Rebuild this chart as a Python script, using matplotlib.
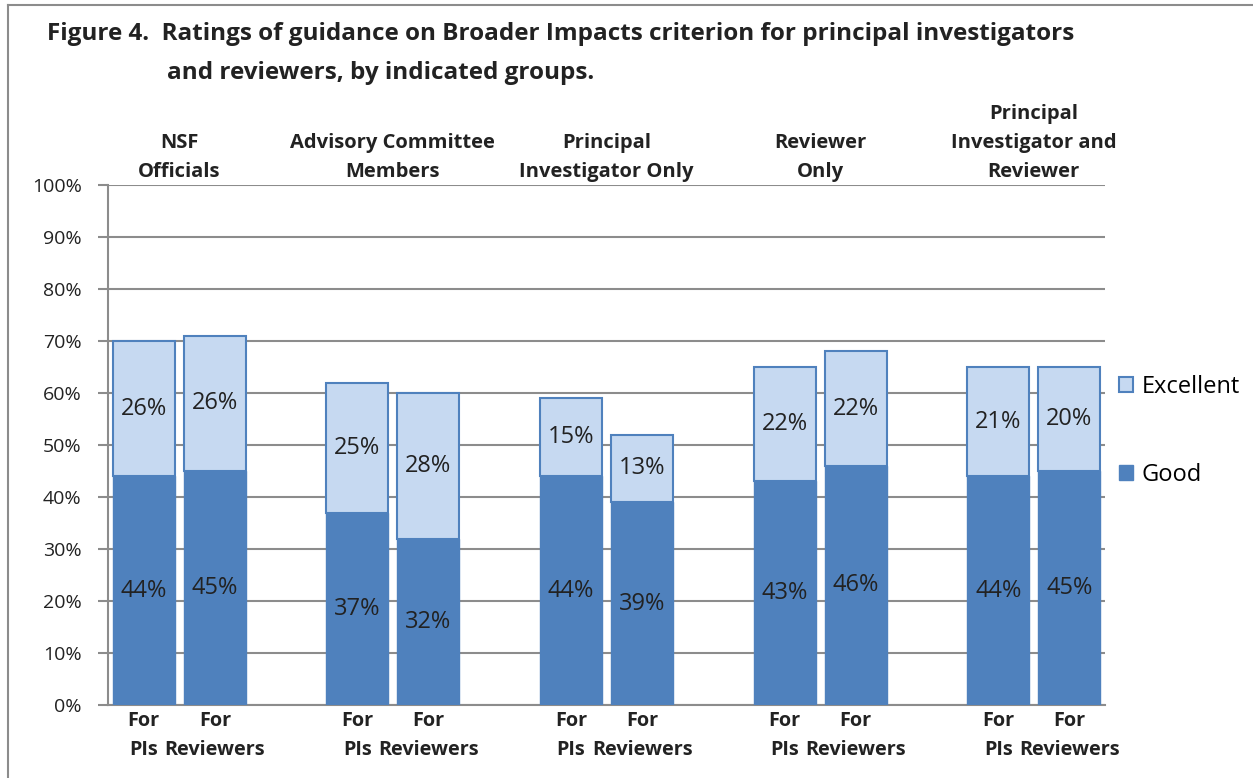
import matplotlib.pyplot as plt
from matplotlib.lines import Line2D
from matplotlib.patches import Patch

GROUPS = ["NSF\nOfficials", "Advisory Committee\nMembers", "Principal\nInvestigator Only",
          "Reviewer\nOnly", "Principal\nInvestigator and\nReviewer"]
BAR_LABELS = ["For\nPIs", "For\nReviewers"] * 5
GOOD = [44, 45, 37, 32, 44, 39, 43, 46, 44, 45]
EXCELLENT = [26, 26, 25, 28, 15, 13, 22, 22, 21, 20]
YTICKS = [0, 10, 20, 30, 40, 50, 60, 70, 80, 90, 100]

DARK = "#4F81BD"
LIGHT = "#C6D9F1"
GRID = "#8C8C8C"

plt.rcParams['font.family'] = ['Open Sans', 'DejaVu Sans']

fig = plt.figure(figsize=(12.53, 7.78), dpi=100)
ax = fig.add_axes([0.0862, 0.0938, 0.7957, 0.6684])

# two bars per group, one empty slot between groups
xpos = []
for g in range(len(GROUPS)):
    xpos += [3 * g, 3 * g + 1]

ax.bar(xpos, GOOD, width=0.87, color=DARK, edgecolor=DARK, linewidth=1, zorder=3, label="Good")
ax.bar(xpos, EXCELLENT, bottom=GOOD, width=0.87, color=LIGHT, edgecolor=DARK,
       linewidth=1.5, zorder=3, label="Excellent")

for x, g, e in zip(xpos, GOOD, EXCELLENT):
    ax.text(x, g / 2, f"{g}%", ha="center", va="center", fontsize=17, color="#222222", zorder=4)
    ax.text(x, g + e / 2, f"{e}%", ha="center", va="center", fontsize=17, color="#222222", zorder=4)

ax.set_xlim(-0.5, 13.5)
ax.set_ylim(0, 100)
ax.set_yticks(YTICKS)
ax.set_yticklabels([f"{t}%" for t in YTICKS], fontsize=14, color="#222222")
ax.yaxis.grid(True, color=GRID, linewidth=1.5, zorder=0)
ax.tick_params(axis="y", length=7, width=1.5, color=GRID, pad=12)
ax.set_xticks(xpos)
ax.set_xticklabels(BAR_LABELS, fontsize=14.3, fontweight="bold", color="#222222", linespacing=1.65)
ax.tick_params(axis="x", length=0, pad=4)

for side in ["top", "right"]:
    ax.spines[side].set_visible(False)
ax.spines["left"].set_color(GRID)
ax.spines["left"].set_linewidth(1.5)
ax.spines["bottom"].set_color(GRID)
ax.spines["bottom"].set_linewidth(1.5)

# group headers above the plot
for g, name in enumerate(GROUPS):
    ax.text(3 * g + 0.5, 100.5, name, ha="center", va="bottom", fontsize=14.5,
            fontweight="bold", color="#222222", linespacing=1.6)

handles = [Patch(facecolor=LIGHT, edgecolor=DARK, linewidth=1.5, label="Excellent"),
           Patch(facecolor=DARK, edgecolor=DARK, label="Good")]
fig.legend(handles=handles, loc="center left", bbox_to_anchor=(0.876, 0.446),
           frameon=False, fontsize=17, handlelength=0.6, handleheight=0.6,
           handletextpad=0.35, labelspacing=2.7)

fig.text(0.0375, 0.956, "Figure 4.  Ratings of guidance on Broader Impacts criterion for principal investigators",
         fontsize=17.5, fontweight="bold", color="#222222", va="center")
fig.text(0.133, 0.906, "and reviewers, by indicated groups.",
         fontsize=17.5, fontweight="bold", color="#222222", va="center")

# page frame
fig.add_artist(Line2D([0.0064, 0.0064], [0, 0.9936], color=GRID, linewidth=1.5))
fig.add_artist(Line2D([0.0064, 1.0], [0.9936, 0.9936], color=GRID, linewidth=1.5))

fig.savefig("out.png", dpi=100)
